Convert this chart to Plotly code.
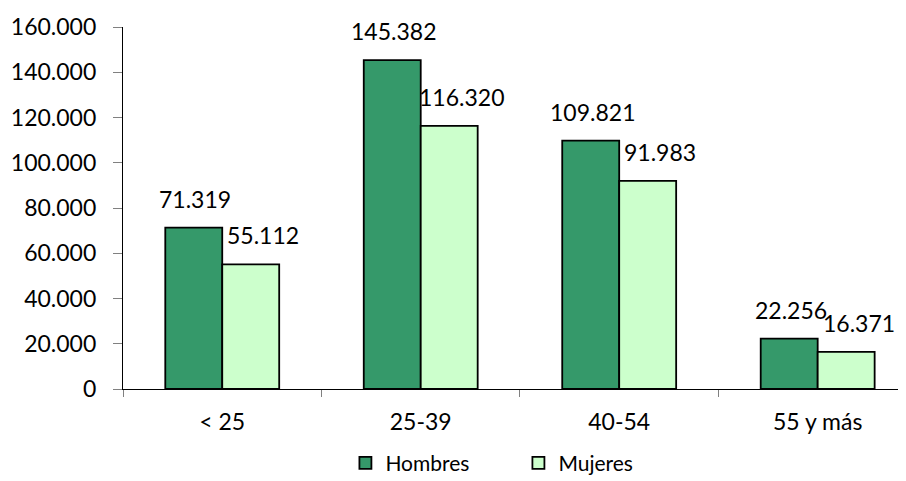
import plotly.graph_objects as go

#age groups and values by sex
grupos = ['< 25', '25-39', '40-54', '55 y más']
hombres = [71319, 145382, 109821, 22256]
mujeres = [55112, 116320, 91983, 16371]

fig = go.Figure()
fig.add_trace(go.Bar(x=grupos, y=hombres, name='Hombres',
                     marker=dict(color='#35996a', line=dict(color='black', width=1.8))))
fig.add_trace(go.Bar(x=grupos, y=mujeres, name='Mujeres',
                     marker=dict(color='#ccffcc', line=dict(color='black', width=1.8))))

#data labels above the bars, dot as thousands separator
for i, g in enumerate(grupos):
    fig.add_annotation(x=g, y=hombres[i], text=f'{hombres[i]:,}'.replace(',', '.'),
                       xshift=-27, yshift=29, yanchor='middle', showarrow=False)
    fig.add_annotation(x=g, y=mujeres[i], text=f'{mujeres[i]:,}'.replace(',', '.'),
                       xshift=41, yshift=29, yanchor='middle', showarrow=False)

#page has an 8px body margin, so margins are offset by that
fig.update_layout(
    width=906, height=481,
    margin=dict(l=115, r=8, t=19, b=100, autoexpand=False),
    plot_bgcolor='white', paper_bgcolor='white',
    font=dict(family='Lato, Arial', size=23, color='black'),
    separators=',.',
    barmode='group', bargap=0.426, bargroupgap=0,
    legend=dict(orientation='h', x=0.505, xanchor='center', y=-0.205, yanchor='middle',
                entrywidth=128, font=dict(size=21)),
)
fig.update_xaxes(range=[-0.5, 3.445], showline=True, linecolor='black', linewidth=1.2,
                 ticks='outside', tickson='boundaries', ticklen=7, tickcolor='#808080',
                 ticklabelstandoff=12, showgrid=False, automargin=False)
fig.update_yaxes(range=[0, 160000], dtick=20000, tickformat=',d', showline=True,
                 linecolor='black', linewidth=1.2, ticks='outside', ticklen=9,
                 tickcolor='#808080', ticklabelstandoff=12, showgrid=False, zeroline=False,
                 automargin=False)

fig.write_html("out.html")
